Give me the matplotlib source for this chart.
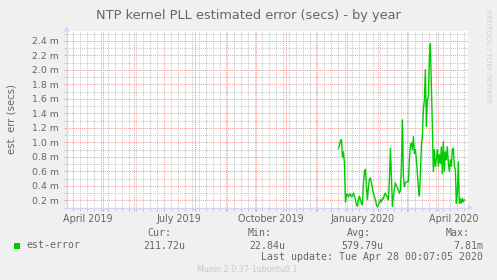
import matplotlib
matplotlib.use('Agg')
import matplotlib.pyplot as plt
import matplotlib.dates as mdates
from matplotlib.ticker import MultipleLocator, FuncFormatter, NullFormatter
from matplotlib.patches import Rectangle, Polygon
import pandas as pd

W, H = 497, 280

# daily averages of the NTP estimated error, in milliseconds
first_day = '2019-12-23'
est_error_ms = [
    0.92, 0.96, 1.02, 1.04, 0.80, 0.87, 0.71, 0.18, 0.28, 0.29,
    0.25, 0.28, 0.29, 0.25, 0.26, 0.30, 0.26, 0.21, 0.14, 0.12,
    0.21, 0.26, 0.21, 0.16, 0.14, 0.44, 0.60, 0.63, 0.39, 0.21,
    0.39, 0.49, 0.51, 0.44, 0.37, 0.30, 0.25, 0.21, 0.14, 0.11,
    0.14, 0.17, 0.21, 0.18, 0.23, 0.22, 0.28, 0.30, 0.26, 0.25,
    0.21, 0.48, 0.92, 0.53, 0.12, 0.25, 0.37, 0.44, 0.41, 0.37,
    0.34, 0.30, 0.34, 0.67, 1.31, 0.53, 0.39, 0.44, 0.46, 0.46,
    0.46, 0.76, 0.96, 0.99, 0.90, 1.08, 0.85, 0.90, 0.76, 0.57,
    0.37, 0.26, 0.57, 0.94, 1.10, 1.45, 1.58, 2.00, 1.22, 1.58,
    1.63, 2.18, 2.36, 1.77, 1.22, 0.60, 0.90, 0.67, 0.76, 0.90,
    0.67, 0.83, 0.71, 0.94, 0.57, 1.01, 0.60, 0.87, 0.76, 0.94,
    0.71, 0.60, 0.76, 0.67, 0.90, 0.92, 0.67, 0.63, 0.16, 0.30,
    0.73, 0.16, 0.22, 0.16, 0.23, 0.18, 0.21,
]

x_start, x_end = '2019-03-26', '2020-04-30 16:00'
y_min, y_max = 0.1, 2.535

xtick_dates = ['2019-04-16', '2019-07-16', '2019-10-16', '2020-01-16', '2020-04-16']
xtick_labels = ['April 2019', 'July 2019', 'October 2019', 'January 2020', 'April 2020']

legend_headers = ['Cur:', 'Min:', 'Avg:', 'Max:']
legend_values = ['211.72u', '22.84u', '579.79u', '7.81m']

BG = '#F0F0F0'
FONT = '#666666'
AXIS = '#CFD6F8'
MGRID = '#F2A0A0'
GRID = '#C8C8C8'
GREEN = '#00CC00'


def fx(x):
    return x / W


def fy(y):
    return 1 - y / H


days = pd.date_range(first_day, periods=len(est_error_ms), freq='D')

fig = plt.figure(figsize=(W / 100, H / 100), dpi=100, facecolor=BG)
left, right, top, bottom = 66.7, 468, 31, 207.7
ax = fig.add_axes([fx(left), fy(bottom), fx(right) - fx(left), fy(top) - fy(bottom)])
ax.set_facecolor('white')

ax.plot(days, est_error_ms, color=GREEN, lw=1.0, zorder=3)

ax.set_xlim(pd.Timestamp(x_start), pd.Timestamp(x_end))
ax.set_ylim(y_min, y_max)

ax.yaxis.set_major_locator(MultipleLocator(0.2))
ax.yaxis.set_minor_locator(MultipleLocator(0.1))
ax.yaxis.set_major_formatter(FuncFormatter(lambda v, _: f'{v:.1f} m'))
ax.xaxis.set_major_locator(mdates.MonthLocator())
ax.xaxis.set_minor_locator(mdates.WeekdayLocator(byweekday=mdates.MO))
ax.xaxis.set_major_formatter(NullFormatter())

dots = (0, (1, 1))
ax.grid(which='minor', color=GRID, ls=dots, lw=0.75, zorder=1)
ax.grid(which='major', color=MGRID, ls=dots, lw=0.75, zorder=2)
ax.set_axisbelow(True)

ax.tick_params(which='both', direction='out', length=2.5, width=0.75)
ax.tick_params(which='major', color=MGRID)
ax.tick_params(which='minor', color=GRID)
ax.tick_params(axis='y', which='major', pad=3.0, labelsize=6.75, labelcolor=FONT)

for s in ('top', 'right'):
    ax.spines[s].set_visible(False)
for s in ('left', 'bottom'):
    ax.spines[s].set_color(AXIS)
    ax.spines[s].set_linewidth(1.0)

for d, lab in zip(xtick_dates, xtick_labels):
    ax.text(pd.Timestamp(d), (bottom - 221.7) / (bottom - top), lab,
            transform=ax.get_xaxis_transform(), ha='center', va='baseline',
            fontsize=6.9, color=FONT)

# axis arrows
fig.add_artist(Polygon([(fx(63.7), fy(31.5)), (fx(69.7), fy(31.5)), (fx(66.7), fy(26.5))],
                       closed=True, color=AXIS, transform=fig.transFigure, lw=0))
fig.add_artist(Polygon([(fx(468), fy(204.7)), (fx(468), fy(210.7)), (fx(473), fy(207.7))],
                       closed=True, color=AXIS, transform=fig.transFigure, lw=0))

fig.text(fx(248.7), fy(19), 'NTP kernel PLL estimated error (secs) - by year',
         ha='center', va='baseline', fontsize=9.3, color=FONT)
fig.text(fx(12), fy(119), 'est. err (secs)', rotation=90,
         ha='center', va='center', fontsize=7.3, color=FONT)
fig.text(fx(488), fy(56), 'RRDTOOL / TOBI OETIKER', rotation=270,
         ha='center', va='center', fontsize=5.3, color='#D0D0D0')

# legend block
mono = dict(family='DejaVu Sans Mono', fontsize=7.15, color=FONT, va='baseline')
fig.add_artist(Rectangle((fx(14), fy(248.5)), fx(6), fy(242.5) - fy(248.5),
                         color=GREEN, transform=fig.transFigure, lw=0))
fig.text(fx(26), fy(248.5), 'est-error', ha='left', **mono)
head_right = [171.7, 271.7, 371, 470]
val_right = [185, 285, 383.3, 483.3]
for hx, vx, h, v in zip(head_right, val_right, legend_headers, legend_values):
    fig.text(fx(hx), fy(236), h, ha='right', **mono)
    fig.text(fx(vx), fy(249), v, ha='right', **mono)
fig.text(fx(482.7), fy(259.5), 'Last update: Tue Apr 28 00:07:05 2020', ha='right', **mono)
fig.text(fx(247.5), fy(272), 'Munin 2.0.37-1ubuntu0.1', ha='center', va='baseline',
         fontsize=5.8, color='#C8C8C8')

fig.savefig('out.png', dpi=100, facecolor=BG)
